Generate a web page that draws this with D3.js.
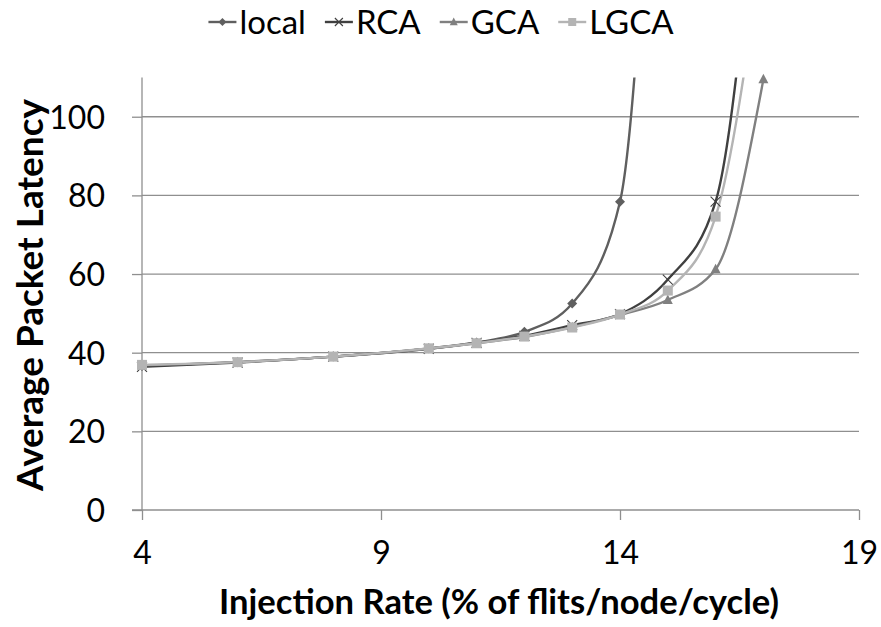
<!DOCTYPE html>
<html><head><meta charset="utf-8">
<script src="https://cdn.jsdelivr.net/npm/d3@7"></script>
<style>
html,body{margin:0;padding:0;background:#fff;}
svg{display:block;font-family:Lato,"Liberation Sans",sans-serif;}
</style></head>
<body><svg id="chart" width="881" height="627"></svg>
<script>
const xValues = [4, 6, 8, 10, 11, 12, 13, 14, 15, 16, 17];
const localValues = [36.6, 37.6, 39.0, 41.1, 42.6, 45.3, 52.5, 78.4, 260];
const rcaValues   = [36.4, 37.5, 39.0, 41.0, 42.5, 44.3, 47.0, 49.8, 58.6, 78.4, 180];
const gcaValues   = [36.8, 37.6, 39.0, 41.0, 42.4, 44.0, 46.5, 49.6, 53.4, 61.2, 109.5];
const lgcaValues  = [36.9, 37.6, 39.0, 41.1, 42.4, 44.1, 46.4, 49.7, 55.8, 74.6, 145];
const seriesNames = ["local", "RCA", "GCA", "LGCA"];
const xTicks = [4, 9, 14, 19];
const yTicks = [0, 20, 40, 60, 80, 100];
const xTitle = "Injection Rate (% of flits/node/cycle)";
const yTitle = "Average Packet Latency";

const series = [
  {name: seriesNames[0], values: localValues, color: "#5f5f5f", marker: "diamond"},
  {name: seriesNames[1], values: rcaValues, color: "#404040", marker: "x"},
  {name: seriesNames[2], values: gcaValues, color: "#808080", marker: "triangle"},
  {name: seriesNames[3], values: lgcaValues, color: "#b4b4b4", marker: "square"}
];

const svg = d3.select("#chart");
const x = d3.scaleLinear().domain([4, 19]).range([142, 859]);
const y = d3.scaleLinear().domain([0, 110]).range([510, 77.4]);
const axisColor = "#8f8f8f";

// gridlines
svg.append("g").selectAll("line").data(yTicks.filter(d => d > 0)).join("line")
  .attr("x1", x(4)).attr("x2", x(19)).attr("y1", d => y(d)).attr("y2", d => y(d))
  .attr("stroke", axisColor).attr("stroke-width", 1.3);

// axes
const xAxis = svg.append("g").attr("transform", `translate(0,${y(0)})`)
  .call(d3.axisBottom(x).tickValues(xTicks).tickSize(10).tickPadding(21).tickFormat(d3.format("d")));
const yAxis = svg.append("g").attr("transform", `translate(${x(4)},0)`)
  .call(d3.axisLeft(y).tickValues(yTicks).tickSize(10).tickPadding(27).tickFormat(d3.format("d")));
[xAxis, yAxis].forEach(a => {
  a.select(".domain").attr("stroke", axisColor).attr("stroke-width", 1.3);
  a.selectAll(".tick line").attr("stroke", axisColor).attr("stroke-width", 1.3);
  a.selectAll("text").attr("font-size", 32).attr("fill", "#000").attr("font-family", "Lato");
});
yAxis.select(".domain").attr("d", `M0,${y(0)}V${y(110)}`);
xAxis.select(".domain").attr("d", `M${x(4)-10},0H${x(19)}`);
yAxis.selectAll("text").attr("dy", "0.36em");

// clip
const defs = svg.append("defs");
defs.append("clipPath").attr("id", "plotclip").append("rect")
  .attr("x", x(4)).attr("y", y(110)).attr("width", x(19) - x(4)).attr("height", y(0) - y(110));

const line = d3.line().x((d, i) => x(xValues[i])).y(d => y(d)).curve(d3.curveMonotoneX);

const plot = svg.append("g");
series.forEach(s => {
  plot.append("path").datum(s.values)
    .attr("d", line).attr("fill", "none").attr("stroke", s.color).attr("stroke-width", 2.4)
    .attr("clip-path", "url(#plotclip)");
});

function drawMarker(g, type, cx, cy, color, size) {
  const r = size / 2;
  if (type === "diamond") {
    g.append("path").attr("d", `M${cx},${cy-r}L${cx+r},${cy}L${cx},${cy+r}L${cx-r},${cy}Z`).attr("fill", color);
  } else if (type === "square") {
    g.append("rect").attr("x", cx - r).attr("y", cy - r).attr("width", size).attr("height", size).attr("fill", color);
  } else if (type === "triangle") {
    g.append("path").attr("d", `M${cx},${cy-r*1.1}L${cx+r},${cy+r*0.8}L${cx-r},${cy+r*0.8}Z`).attr("fill", color);
  } else if (type === "x") {
    g.append("path").attr("d", `M${cx-r},${cy-r}L${cx+r},${cy+r}M${cx-r},${cy+r}L${cx+r},${cy-r}`)
      .attr("stroke", color).attr("stroke-width", 1.1);
  }
}
series.forEach(s => {
  const g = plot.append("g");
  s.values.forEach((v, i) => {
    if (v <= 110) drawMarker(g, s.marker, x(xValues[i]), y(v), s.color, 10);
  });
});

// axis titles, sized to span the same extent as the reference
function fitText(sel, target) {
  const base = +sel.attr("font-size");
  const w = sel.node().getComputedTextLength();
  sel.attr("font-size", base * target / w);
}
const xt = svg.append("text").attr("x", 499).attr("y", 614).attr("text-anchor", "middle")
  .attr("font-size", 30).attr("font-weight", "bold").text(xTitle);
fitText(xt, 560);
const yt = svg.append("text").attr("transform", "translate(43,295) rotate(-90)").attr("text-anchor", "middle")
  .attr("font-size", 30).attr("font-weight", "bold").text(yTitle);
fitText(yt, 392);

// legend
const legend = svg.append("g");
let cx = 0;
const gap = 19;
series.forEach((s, i) => {
  const g = legend.append("g").attr("transform", `translate(${cx},0)`);
  g.append("line").attr("x1", 0).attr("x2", 28).attr("y1", 22).attr("y2", 22).attr("stroke", s.color).attr("stroke-width", 2.4);
  drawMarker(g, s.marker, 14, 22, s.color, 8);
  const t = g.append("text").attr("x", 31).attr("y", 34).attr("font-size", 33).text(s.name);
  cx += 31 + t.node().getComputedTextLength() + gap;
});
const lw = cx - gap;
legend.attr("transform", `translate(${441 - lw / 2},0)`);
</script></body></html>
